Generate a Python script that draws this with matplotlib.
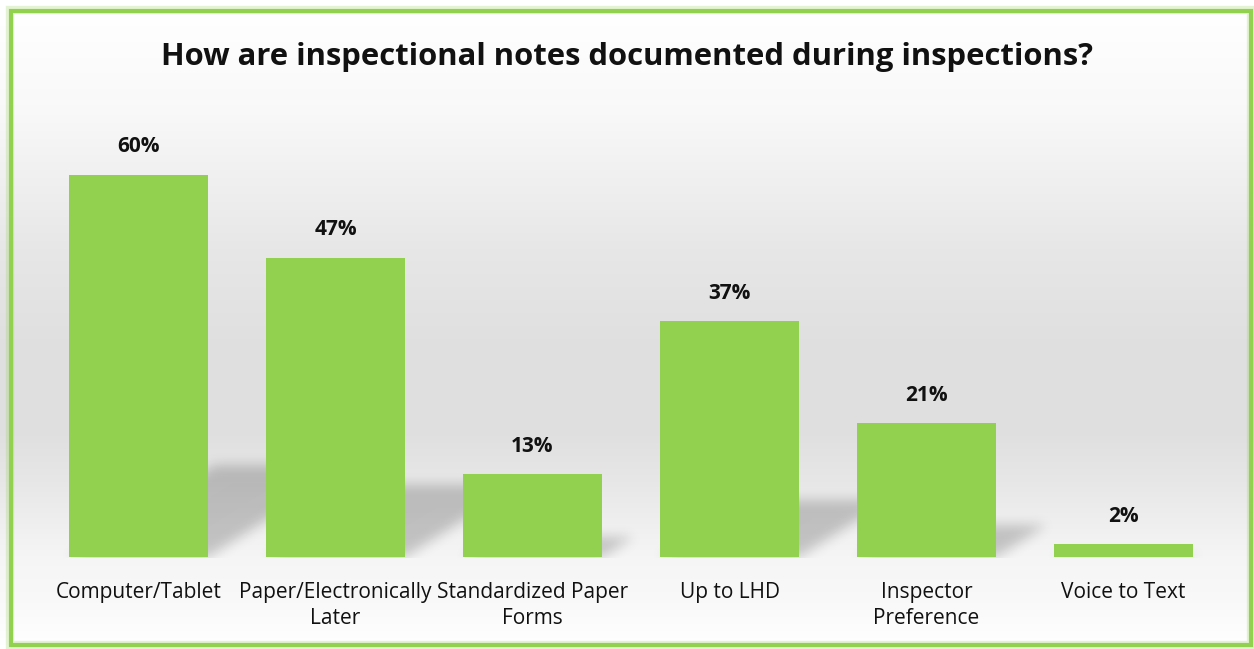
import numpy as np
import matplotlib
matplotlib.use("Agg")
import matplotlib.pyplot as plt
from matplotlib.patches import Rectangle
from matplotlib.path import Path

categories = ["Computer/Tablet", "Paper/Electronically\nLater", "Standardized Paper\nForms",
              "Up to LHD", "Inspector\nPreference", "Voice to Text"]
values = [60, 47, 13, 37, 21, 2]
labels = ["60%", "47%", "13%", "37%", "21%", "2%"]
title = "How are inspectional notes documented during inspections?"

W, H = 1254, 649
fig = plt.figure(figsize=(W/100, H/100), dpi=100)
fig.patch.set_facecolor("white")

# background axes in pixel coordinates (y downward)
bg = fig.add_axes([0, 0, 1, 1], zorder=0)
bg.set_xlim(0, W); bg.set_ylim(H, 0); bg.axis("off")
ypx = np.arange(H)
prof = np.interp(ypx, [10, 110, 250, 350, 430, 480, 540, 557, 600, 645],
                 [1.0, 0.975, 0.905, 0.875, 0.875, 0.905, 0.95, 0.962, 0.975, 1.0])
img = np.repeat(prof[:, None], 4, axis=1)
img = np.dstack([img, img, img])
bg.imshow(img, extent=[0, W, H, 0], aspect="auto", interpolation="bilinear", zorder=0)

# bar axes
ax = fig.add_axes([40/W, (H-557)/H, 1182/W, (557-111)/H], zorder=1)
ax.patch.set_alpha(0)
x = np.arange(len(values))
width = 0.705
ax.bar(x, values, width=width, color="#92D050", zorder=3)
ax.set_xlim(-0.5, len(values)-0.5)
ax.set_ylim(0, 70)

# perspective shadows (decorative), built from bar geometry
fig.canvas.draw()
yy, xx = np.mgrid[0:H, 0:W]
pts = np.column_stack([xx.ravel() + 0.5, yy.ravel() + 0.5])
mask = np.zeros(H * W)
for xi, v in zip(x, values):
    (x0, yb), (x1, yt) = ax.transData.transform([(xi - width/2, 0), (xi + width/2, v)])
    yb_px, yt_px = H - yb, H - yt
    h = yb_px - yt_px
    dy, dx = 0.24 * h, 0.38 * h
    poly = Path([(x0, yb_px), (x1, yb_px), (x1 + dx, yb_px - dy), (x0 + dx, yb_px - dy)])
    mask = np.maximum(mask, poly.contains_points(pts).astype(float))
mask = mask.reshape(H, W)
k = np.exp(-0.5 * (np.arange(-18, 19) / 6.0) ** 2); k /= k.sum()
blur = np.apply_along_axis(lambda r: np.convolve(r, k, mode="same"), 1, mask)
blur = np.apply_along_axis(lambda c: np.convolve(c, k, mode="same"), 0, blur)
blur[int(H - ax.transData.transform((0, 0))[1]) + 1:, :] = 0
shadow = np.zeros((H, W, 4))
shadow[..., 3] = blur * 0.2
bg.imshow(shadow, extent=[0, W, H, 0], aspect="auto", interpolation="bilinear", zorder=1)

# frame
bg.add_patch(Rectangle((10, 10), W - 13, H - 14, fill=False, ec="#92D050", lw=6, alpha=0.25, zorder=2))
bg.add_patch(Rectangle((11, 11), W - 14, H - 15, fill=False, ec="#92D050", lw=3, zorder=3))

for xi, v, lab in zip(x, values, labels):
    ax.text(xi, v + 4.4, lab, ha="center", va="center", fontsize=15, fontweight="bold",
            family="Open Sans", color="#111111")
ax.set_xticks(x)
ax.set_xticklabels(categories, fontsize=15, family="Open Sans", color="#111111", linespacing=1.3)
ax.tick_params(axis="x", length=0, pad=18)
ax.set_yticks([])
for s in ax.spines.values():
    s.set_visible(False)

fig.text(0.5, 1 - 57/H, title, ha="center", va="center", fontsize=22.3, fontweight="bold",
         family="Open Sans", color="#111111")

fig.savefig("out.png", dpi=100)
